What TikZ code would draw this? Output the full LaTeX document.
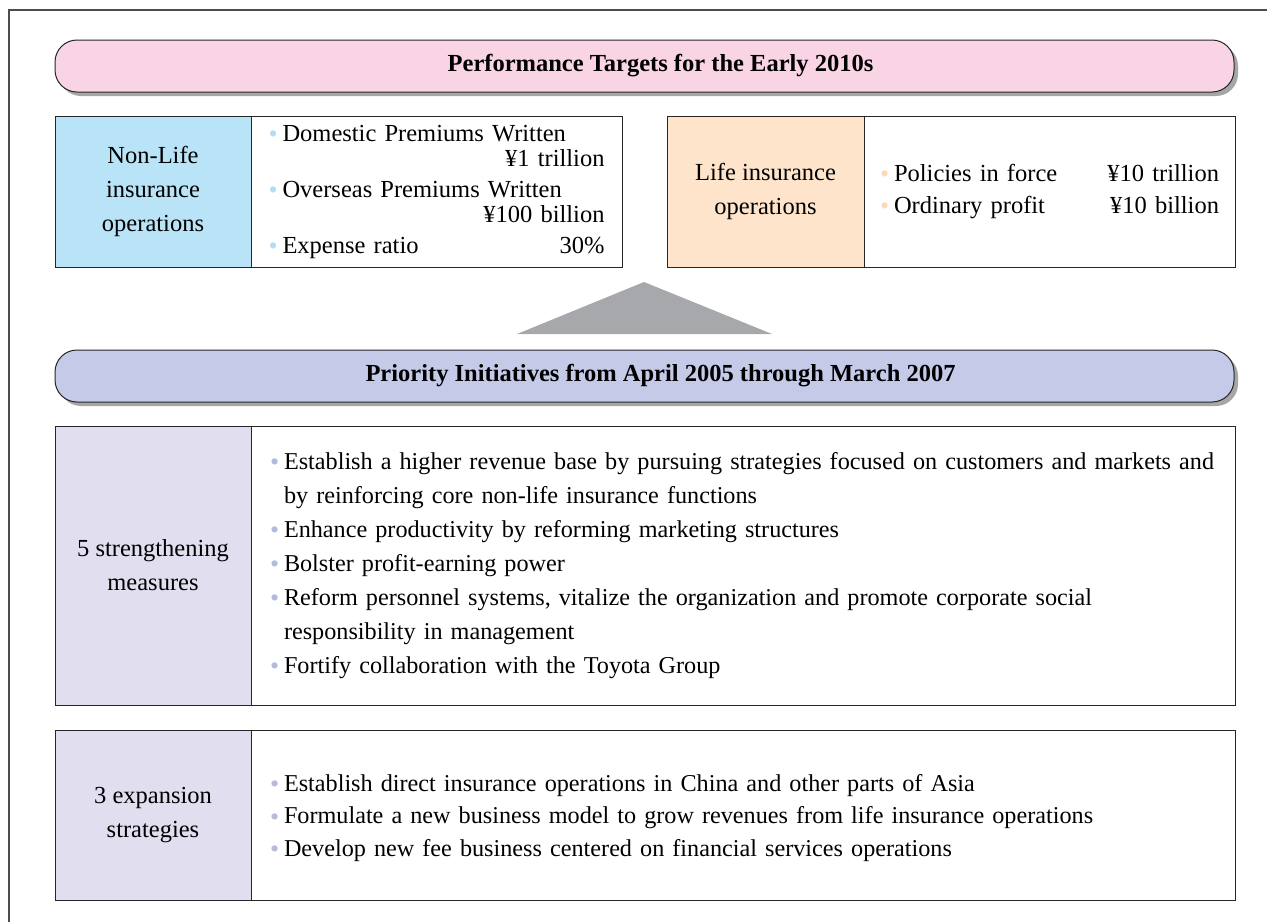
\documentclass[tikz,border=0pt]{standalone}
\usepackage{tikz}
\usepackage{xcolor}
\usepackage{fontspec}
\setmainfont{Liberation Serif}
\usetikzlibrary{shadows}

\definecolor{bannerpink}{HTML}{F9D4E5}
\definecolor{bannerblue}{HTML}{C5CAE8}
\definecolor{nonlifeblue}{HTML}{B9E3F7}
\definecolor{lifepeach}{HTML}{FEE4CB}
\definecolor{measurelilac}{HTML}{E0DEEF}
\definecolor{arrowgray}{HTML}{A7A8AC}
\definecolor{nonlifebul}{HTML}{B3DDF4}
\definecolor{lifebul}{HTML}{FCD9B8}
\definecolor{prioritybul}{HTML}{B4BAD9}

\newcommand{\itembul}[1]{\makebox[14pt][l]{\raisebox{-1.2pt}{\textcolor{#1}{\fontsize{26}{26}\selectfont\char"2022}}}}
\newcommand{\bulindent}{\hspace*{14pt}}
\newcommand{\pushright}{\hspace*{0pt plus 1filll}}

\begin{document}
\begin{tikzpicture}[x=1pt, y=-1pt,
    banner/.style={draw=black!85, line width=1pt, rounded corners=22pt, outer sep=0pt,
        minimum width=1179pt, minimum height=52pt, font=\fontsize{24.5}{30}\selectfont\bfseries,
        drop shadow={shadow xshift=4pt, shadow yshift=-4pt, fill=black!35, opacity=1}},
    headcell/.style={draw=black!85, line width=1pt, outer sep=0pt, align=center,
        minimum width=196pt, font=\fontsize{24.5}{34}\selectfont},
    bodycell/.style={draw=black!85, line width=1pt, outer sep=0pt, align=left, anchor=west,
        font=\fontsize{24.2}{34}\selectfont}]
    \useasboundingbox (0,0) rectangle (1267,922);

    % Draw the page frame
    \draw[black!70, line width=1.5pt] (9,922) -- (9,10) -- (1267,10);

    % Draw the targets banner
    \node[banner, fill=bannerpink] (targets) at (644.5,66) {\hspace*{32pt}Performance Targets for the Early 2010s};

    % Non-life targets
    \node[headcell, fill=nonlifeblue, minimum height=151pt] (nonlife) at (153,191.5) {Non-Life\\insurance\\operations};
    \node[bodycell, minimum width=371pt, minimum height=151pt, text width=336pt,
        font=\fontsize{24.5}{25}\selectfont] (nonlifetargets) at (nonlife.east) {%
        \itembul{nonlifebul}Domestic Premiums Written\\
        \pushright ¥1 trillion\\[6pt]
        \itembul{nonlifebul}Overseas Premiums Written\\
        \pushright ¥100 billion\\[6pt]
        \itembul{nonlifebul}Expense ratio\pushright 30\%};

    % Life targets
    \node[headcell, fill=lifepeach, minimum width=197pt, minimum height=151pt] (life) at (765.5,191.5) {Life insurance\\operations};
    \node[bodycell, minimum width=371pt, minimum height=151pt, text width=339pt,
        font=\fontsize{24.5}{32}\selectfont] (lifetargets) at (life.east) {%
        \itembul{lifebul}Policies in force\pushright ¥10 trillion\\
        \itembul{lifebul}Ordinary profit\pushright ¥10 billion};

    % Draw the gray triangle
    \fill[arrowgray] (517,334) -- (644,282) -- (772,334) -- cycle;

    % Draw the initiatives banner
    \node[banner, fill=bannerblue] (initiatives) at (644.5,376) {\hspace*{32pt}Priority Initiatives from April 2005 through March 2007};

    % Strengthening measures
    \node[headcell, fill=measurelilac, minimum height=279pt] (measures) at (153,565.5) {5 strengthening\\measures};
    \node[bodycell, minimum width=984pt, minimum height=279pt, text width=946pt] (measurelist) at (measures.east) {%
        \itembul{prioritybul}Establish a higher revenue base by pursuing strategies focused on customers and markets and\\
        \bulindent by reinforcing core non-life insurance functions\\
        \itembul{prioritybul}Enhance productivity by reforming marketing structures\\
        \itembul{prioritybul}Bolster profit-earning power\\
        \itembul{prioritybul}Reform personnel systems, vitalize the organization and promote corporate social\\
        \bulindent responsibility in management\\
        \itembul{prioritybul}Fortify collaboration with the Toyota Group};

    % Expansion strategies
    \node[headcell, fill=measurelilac, minimum height=170pt] (strategies) at (153,815) {3 expansion\\strategies};
    \node[bodycell, minimum width=984pt, minimum height=170pt, text width=946pt,
        font=\fontsize{24.2}{32.5}\selectfont] (strategylist) at (strategies.east) {%
        \rule{0pt}{23pt}\itembul{prioritybul}Establish direct insurance operations in China and other parts of Asia\\
        \itembul{prioritybul}Formulate a new business model to grow revenues from life insurance operations\\
        \itembul{prioritybul}Develop new fee business centered on financial services operations};
\end{tikzpicture}
\end{document}
